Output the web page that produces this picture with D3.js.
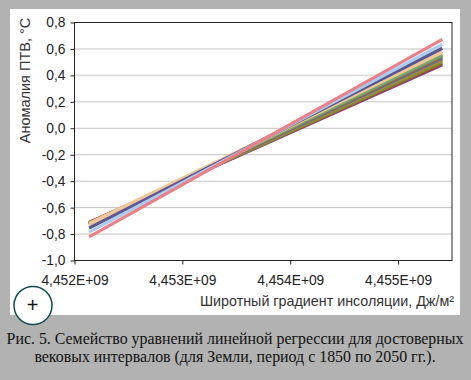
<!DOCTYPE html>
<html>
<head>
<meta charset="utf-8">
<script src="https://cdn.jsdelivr.net/npm/d3@7"></script>
<style>
  html, body { margin: 0; padding: 0; background: #b2b2b2; }
  svg { display: block; }
</style>
</head>
<body>
<div id="chart"></div>
<script>
const xEnds = [4452135000, 4455410000];
const xTicks = [4452000000, 4453000000, 4454000000, 4455000000];
const xTickLabels = ['4,452E+09', '4,453E+09', '4,454E+09', '4,455E+09'];
const yTicks = [-1, -0.8, -0.6, -0.4, -0.2, 0, 0.2, 0.4, 0.6, 0.8];
const yTickLabels = ['-1,0', '-0,8', '-0,6', '-0,4', '-0,2', '0,0', '0,2', '0,4', '0,6', '0,8'];

// anomaly at the left and right end of each regression line, bottom of the fan first
const startValues = [-0.712, -0.715, -0.718, -0.72, -0.722, -0.724, -0.726, -0.728, -0.73, -0.72, -0.735, -0.755, -0.785, -0.822];
const endValues = [0.48, 0.49, 0.5, 0.51, 0.52, 0.53, 0.54, 0.55, 0.558, 0.574, 0.578, 0.605, 0.635, 0.672];
const lineColors = ['#7b3f98', '#a0522d', '#8a8a2a', '#6f9a3c', '#d9782d', '#3f7fa8', '#b5562a', '#5a9a8a', '#7fa860', '#f0c79a', '#f0c79a', '#5b5590', '#a9cdf0', '#ea8088'];

const width = 471, height = 380;
const margin = { top: 22.5, right: 19, bottom: 119.5, left: 74.5 };
const W = width - margin.left - margin.right;
const H = height - margin.top - margin.bottom;

const svg = d3.select('#chart').append('svg')
  .attr('width', width).attr('height', height)
  .attr('role', 'img')
  .attr('aria-label', 'Семейство уравнений линейной регрессии');

svg.append('rect').attr('width', width).attr('height', height).attr('fill', '#b2b2b2');
svg.append('rect').attr('x', 10).attr('y', 9).attr('width', 450).attr('height', 306).attr('fill', '#fff');

const g = svg.append('g').attr('transform', `translate(${margin.left},${margin.top})`);

const x = d3.scaleLinear().domain([4452000000, 4455500000]).range([0, W]);
const y = d3.scaleLinear().domain([-1, 0.8]).range([H, 0]);

// Grid
g.append('g').selectAll('line')
  .data(yTicks.filter(d => d > -1 && d < 0.8)).enter().append('line')
  .attr('x1', 0).attr('x2', W)
  .attr('y1', d => y(d)).attr('y2', d => y(d))
  .attr('stroke', d => d === 0.4 ? '#dcdcdc' : '#c4c4c4')
  .attr('stroke-width', d => d === 0.4 ? 1.6 : 1);

// Regression lines
const line = d3.line().x(d => x(d[0])).y(d => y(d[1]));
g.append('g').selectAll('path')
  .data(startValues.map((s, i) => [[xEnds[0], s], [xEnds[1], endValues[i]]])).enter().append('path')
  .attr('d', line)
  .attr('fill', 'none')
  .attr('stroke', (d, i) => lineColors[i])
  .attr('stroke-width', 3.2);

// Plot frame
g.append('rect').attr('width', W).attr('height', H)
  .attr('fill', 'none').attr('stroke', '#222').attr('stroke-width', 1);

// Axes
const yAxis = g.append('g')
  .call(d3.axisLeft(y).tickValues(yTicks).tickSize(4).tickPadding(5).tickFormat((d, i) => yTickLabels[i]));
const xAxis = g.append('g').attr('transform', `translate(0,${H})`)
  .call(d3.axisBottom(x).tickValues(xTicks).tickSize(4).tickPadding(11).tickFormat((d, i) => xTickLabels[i]));
[xAxis, yAxis].forEach(a => {
  a.select('.domain').remove();
  a.selectAll('line').attr('stroke', '#222');
  a.selectAll('text').attr('fill', '#222')
    .attr('font-family', "'Liberation Sans', sans-serif").attr('font-size', '13.8px');
});

// Axis titles
svg.append('text')
  .attr('transform', 'translate(30,80.5) rotate(-90)')
  .attr('text-anchor', 'middle')
  .attr('fill', '#333').attr('font-size', '14.5px')
  .attr('font-family', "'Liberation Sans', sans-serif")
  .text('Аномалия ПТВ, °С');

svg.append('text')
  .attr('x', 454).attr('y', 306)
  .attr('text-anchor', 'end')
  .attr('fill', '#333').attr('font-size', '14.3px')
  .attr('font-family', "'Liberation Sans', sans-serif")
  .text('Широтный градиент инсоляции, Дж/м²');

// Caption
['Рис. 5. Семейство уравнений линейной регрессии для достоверных',
 'вековых интервалов (для Земли, период с 1850 по 2050 гг.).'].forEach((t, i) => {
  svg.append('text')
    .attr('x', 235).attr('y', 344 + i * 17.7)
    .attr('text-anchor', 'middle')
    .attr('fill', '#111').attr('font-size', '15.9px')
    .attr('font-family', "'Liberation Serif', serif")
    .text(t);
});

// Round plus badge
svg.append('circle').attr('cx', 33).attr('cy', 305.5).attr('r', 19)
  .attr('fill', '#fff').attr('stroke', '#0e4a4c').attr('stroke-width', 1.5);
svg.append('text')
  .attr('x', 32.5).attr('y', 311.6).attr('text-anchor', 'middle')
  .attr('fill', '#111').attr('font-size', '20px')
  .attr('font-family', "'Liberation Sans', sans-serif")
  .text('+');
</script>
</body>
</html>
